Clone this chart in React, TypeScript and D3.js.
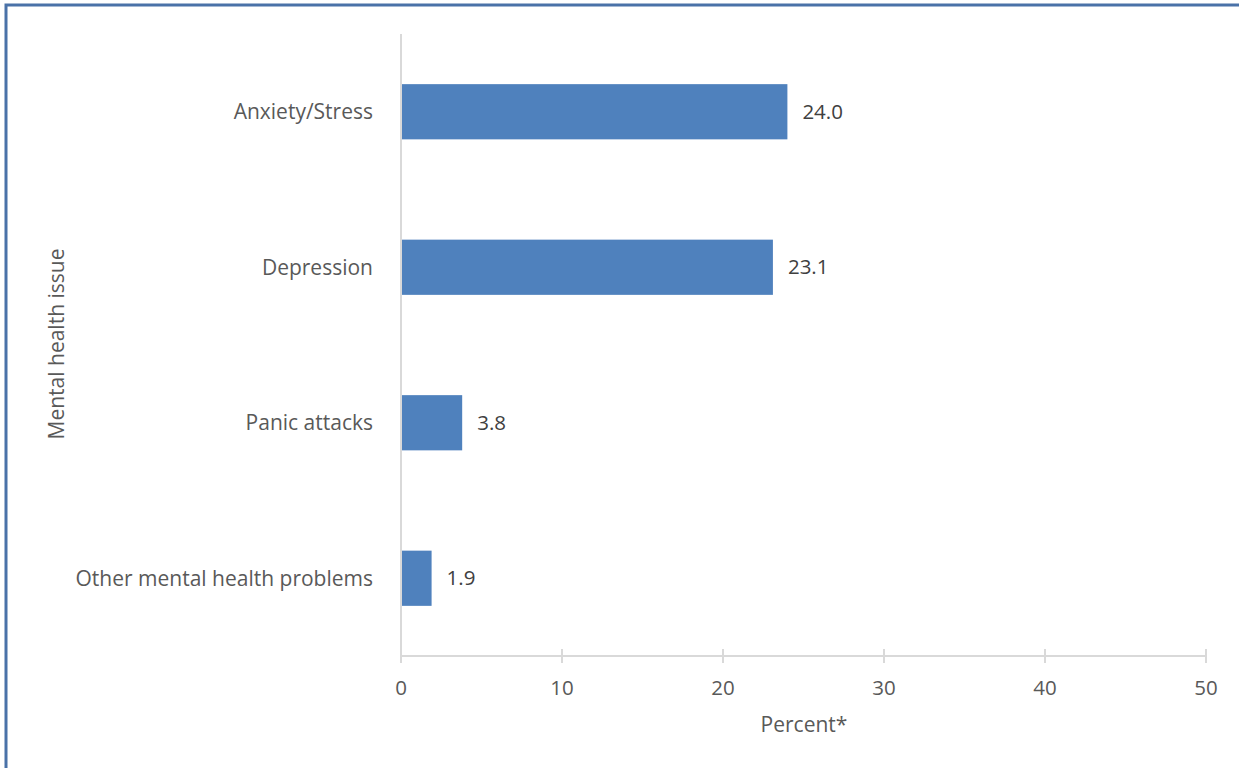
import React from "react";
import * as d3 from "d3";

const categories = ["Anxiety/Stress", "Depression", "Panic attacks", "Other mental health problems"];
const values = [24.0, 23.1, 3.8, 1.9];
const xTicks = [0, 10, 20, 30, 40, 50];

const W = 1239, H = 768;
const FONT = "'Open Sans', sans-serif";
const FS = 21;
const NFS = 20.5;

export default function App() {
  const x = d3.scaleLinear().domain([0, 50]).range([401, 1206]);
  const y = d3.scaleBand().domain(categories).range([34, 656]).paddingInner(0.645).paddingOuter(0.3225);
  const axisColor = "#d9d9d9";
  const textColor = "#595959";
  return (
    <div style={{ position: "absolute", left: 0, top: 0 }}>
      <svg width={W} height={H} style={{ display: "block" }}>
        <rect x={0} y={0} width={W} height={H} fill="#fff" />
        <rect x={6} y={5} width={W + 20} height={H + 20} fill="none" stroke="#4a72a8" strokeWidth={3} />
        {categories.map((c, i) => (
          <g key={c}>
            <rect x={x(0)} y={y(c)!} width={x(values[i]) - x(0)} height={y.bandwidth()} fill="#4f81bd" />
            <text x={x(values[i]) + 15} y={y(c)! + y.bandwidth() / 2} dy="0.35em" fontSize={NFS} fontFamily={FONT} fill="#404040">
              {values[i].toFixed(1)}
            </text>
            <text x={373} y={y(c)! + y.bandwidth() / 2} dy="0.35em" textAnchor="end" fontSize={FS} fontFamily={FONT} fill={textColor}>
              {c}
            </text>
          </g>
        ))}
        <line x1={x(0)} x2={x(0)} y1={34} y2={663} stroke={axisColor} strokeWidth={2} />
        <line x1={x(0)} x2={x(50)} y1={656} y2={656} stroke={axisColor} strokeWidth={2} />
        {xTicks.map((t) => (
          <g key={t}>
            <line x1={x(t)} x2={x(t)} y1={649} y2={663} stroke={axisColor} strokeWidth={2} />
            <text x={x(t)} y={688} dy="0.35em" textAnchor="middle" fontSize={NFS} fontFamily={FONT} fill={textColor}>
              {t}
            </text>
          </g>
        ))}
        <text x={804} y={725} dy="0.35em" textAnchor="middle" fontSize={FS} fontFamily={FONT} fill={textColor}>
          Percent*
        </text>
        <text transform="translate(57,344) rotate(-90)" dy="0.35em" textAnchor="middle" fontSize={FS} fontFamily={FONT} fill={textColor}>
          Mental health issue
        </text>
      </svg>
    </div>
  );
}
